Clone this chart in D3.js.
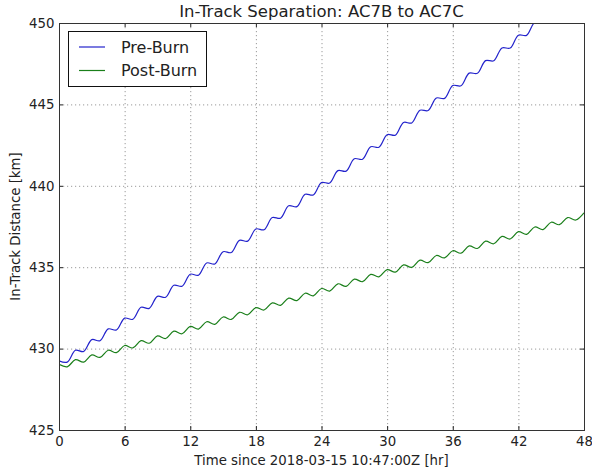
<!DOCTYPE html>
<html lang="en">
<head>
    <meta charset="UTF-8">
    <title>In-Track Separation</title>
    <script src="https://cdnjs.cloudflare.com/ajax/libs/d3/7.8.5/d3.min.js"></script>
    <style>
        body { margin: 0; background: #fff; }
        svg { display: block; font-family: "DejaVu Sans", sans-serif; }
    </style>
</head>
<body>
    <div id="wrapper"></div>
    <script>
        // data (hours since 2018-03-15 10:47:00Z, km)
        const hours = [
            0, 0.75, 1.5, 2.25, 3, 3.75, 4.5, 5.25, 6, 6.75, 7.5, 8.25, 9, 9.75, 10.5, 11.25,
            12, 12.75, 13.5, 14.25, 15, 15.75, 16.5, 17.25, 18, 18.75, 19.5, 20.25, 21, 21.75, 22.5, 23.25,
            24, 24.75, 25.5, 26.25, 27, 27.75, 28.5, 29.25, 30, 30.75, 31.5, 32.25, 33, 33.75, 34.5, 35.25,
            36, 36.75, 37.5, 38.25, 39, 39.75, 40.5, 41.25, 42, 42.75, 43.5, 44.25, 45, 45.75, 46.5, 47.25, 48
        ]
        const preBurn = [
            429.25, 429.17, 429.90, 429.82, 430.55, 430.48, 431.21, 431.14, 431.87, 431.80, 432.54, 432.47, 433.21, 433.15, 433.89, 433.83,
            434.57, 434.51, 435.26, 435.20, 435.95, 435.90, 436.65, 436.60, 437.35, 437.30, 438.05, 438.01, 438.77, 438.72, 439.48, 439.44,
            440.20, 440.17, 440.93, 440.90, 441.66, 441.63, 442.40, 442.37, 443.14, 443.11, 443.89, 443.86, 444.64, 444.62, 445.39, 445.37,
            446.16, 446.14, 446.92, 446.91, 447.69, 447.68, 448.47, 448.46, 449.25, 449.24, 450.04, 450.03, 450.83, 450.83, 451.62, 451.62, 452.42
        ]
        const postBurn = [
            429.03, 428.88, 429.32, 429.17, 429.61, 429.46, 429.90, 429.75, 430.19, 430.04, 430.49, 430.33, 430.78, 430.62, 431.07, 430.91,
            431.36, 431.20, 431.65, 431.49, 431.94, 431.79, 432.23, 432.08, 432.52, 432.37, 432.81, 432.66, 433.10, 432.95, 433.40, 433.24,
            433.69, 433.53, 433.98, 433.82, 434.27, 434.11, 434.56, 434.41, 434.85, 434.70, 435.14, 434.99, 435.43, 435.28, 435.72, 435.57,
            436.01, 435.86, 436.31, 436.15, 436.60, 436.44, 436.89, 436.73, 437.18, 437.02, 437.47, 437.31, 437.76, 437.61, 438.05, 437.90, 438.34
        ]
        const xTicks = [0, 6, 12, 18, 24, 30, 36, 42, 48]
        const yTicks = [425, 430, 435, 440, 445, 450]
        const seriesNames = ['Pre-Burn', 'Post-Burn']
        const seriesColors = ['#2323cc', '#1a7f1a']

        const series = [preBurn, postBurn].map((vals, i) => ({
            name: seriesNames[i],
            color: seriesColors[i],
            points: vals.map((v, j) => ({ t: hours[j], km: v })),
        }))

        let dimensions = {
            width: 592,
            height: 471,
            margin: { top: 23, right: 8, bottom: 41, left: 59 },
        }
        dimensions.boundedWidth = dimensions.width - dimensions.margin.left - dimensions.margin.right
        dimensions.boundedHeight = dimensions.height - dimensions.margin.top - dimensions.margin.bottom

        const wrapper = d3.select('#wrapper')
            .append('svg')
                .attr('width', dimensions.width)
                .attr('height', dimensions.height)

        const bounds = wrapper.append('g')
            .attr('transform', `translate(${dimensions.margin.left},${dimensions.margin.top})`)

        bounds.append('defs')
            .append('clipPath')
                .attr('id', 'plot-clip')
            .append('rect')
                .attr('width', dimensions.boundedWidth)
                .attr('height', dimensions.boundedHeight)

        const xScale = d3.scaleLinear()
            .domain([0, 48])
            .range([0, dimensions.boundedWidth])
        const yScale = d3.scaleLinear()
            .domain([425, 450])
            .range([dimensions.boundedHeight, 0])

        // dotted grid
        const grid = bounds.append('g')
            .attr('stroke', '#9a9a9a')
            .attr('stroke-width', 1)
            .attr('stroke-dasharray', '1.2,2.8')
        grid.selectAll('.gx').data(xTicks.slice(1, -1)).join('line')
            .attr('x1', d => xScale(d) + 0.5).attr('x2', d => xScale(d) + 0.5)
            .attr('y1', 0).attr('y2', dimensions.boundedHeight)
        grid.selectAll('.gy').data(yTicks.slice(1, -1)).join('line')
            .attr('y1', d => yScale(d) + 0.5).attr('y2', d => yScale(d) + 0.5)
            .attr('x1', 0).attr('x2', dimensions.boundedWidth)

        // lines
        const lineGenerator = d3.line()
            .x(d => xScale(d.t))
            .y(d => yScale(d.km))
            .curve(d3.curveCatmullRom)

        bounds.append('g')
            .attr('clip-path', 'url(#plot-clip)')
            .selectAll('path').data(series).join('path')
                .attr('d', d => lineGenerator(d.points))
                .attr('fill', 'none')
                .attr('stroke', d => d.color)
                .attr('stroke-width', 1.2)

        // axes, ticks pointing inward on all four sides
        const styleAxis = g => {
            g.select('.domain').remove()
            g.selectAll('.tick line').attr('stroke', '#222')
            g.selectAll('.tick text')
                .attr('fill', '#222')
                .style('font-size', '13.3px')
                .style('font-family', '"DejaVu Sans", sans-serif')
        }

        bounds.append('g')
            .attr('transform', `translate(0,${dimensions.boundedHeight})`)
            .call(d3.axisBottom(xScale).tickValues(xTicks).tickSize(-4).tickPadding(6.5))
            .call(styleAxis)
        bounds.append('g')
            .call(d3.axisTop(xScale).tickValues(xTicks).tickSize(-4).tickFormat(''))
            .call(styleAxis)
        bounds.append('g')
            .call(d3.axisLeft(yScale).tickValues(yTicks).tickSize(-4).tickPadding(4.5))
            .call(styleAxis)
        bounds.append('g')
            .attr('transform', `translate(${dimensions.boundedWidth},0)`)
            .call(d3.axisRight(yScale).tickValues(yTicks).tickSize(-4).tickFormat(''))
            .call(styleAxis)

        bounds.append('rect')
            .attr('x', 0.5).attr('y', 0.5)
            .attr('width', dimensions.boundedWidth)
            .attr('height', dimensions.boundedHeight)
            .attr('fill', 'none')
            .attr('stroke', '#333')
            .attr('stroke-width', 1)

        // labels
        wrapper.append('text')
            .attr('x', dimensions.margin.left + dimensions.boundedWidth / 2)
            .attr('y', 17)
            .attr('text-anchor', 'middle')
            .style('font-size', '16.5px')
            .attr('fill', '#222')
            .text('In-Track Separation: AC7B to AC7C')

        wrapper.append('text')
            .attr('x', dimensions.margin.left + dimensions.boundedWidth / 2)
            .attr('y', 465)
            .attr('text-anchor', 'middle')
            .style('font-size', '13.3px')
            .attr('fill', '#222')
            .text('Time since 2018-03-15 10:47:00Z [hr]')

        wrapper.append('text')
            .attr('transform', `translate(20,${dimensions.margin.top + dimensions.boundedHeight / 2}) rotate(-90)`)
            .attr('text-anchor', 'middle')
            .style('font-size', '13.3px')
            .attr('fill', '#222')
            .text('In-Track Distance [km]')

        // legend
        const legend = bounds.append('g')
            .attr('transform', 'translate(9,8)')
        legend.append('rect')
            .attr('x', 0.5).attr('y', 0.5)
            .attr('width', 138).attr('height', 55)
            .attr('fill', '#fff')
            .attr('stroke', '#111')
        const items = legend.selectAll('.item').data(series).join('g')
            .attr('transform', (d, i) => `translate(0,${16 + i * 23.5})`)
        items.append('line')
            .attr('x1', 11).attr('x2', 37)
            .attr('stroke', d => d.color)
            .attr('stroke-width', 1.2)
        items.append('text')
            .attr('x', 53)
            .attr('y', 5.8)
            .style('font-size', '16px')
            .attr('fill', '#222')
            .text(d => d.name)
    </script>
</body>
</html>
